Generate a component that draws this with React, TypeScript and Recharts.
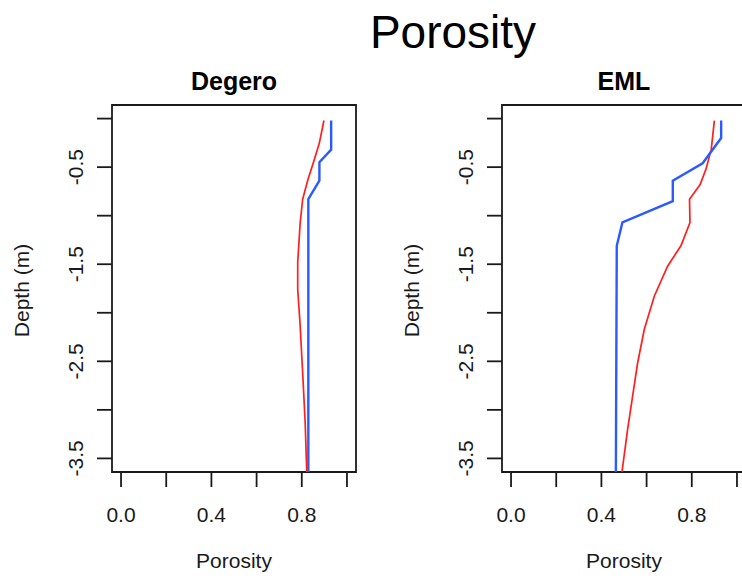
import { Line, LineChart, ReferenceArea, XAxis, YAxis } from "recharts";

// Porosity profiles (depth in m, negative downwards).
const degeroRedDepth = [-0.02, -0.25, -0.42, -0.63, -0.83, -1.07, -1.48, -1.76, -2.1, -2.62, -3.13, -3.64];
const degeroRedPorosity = [0.898, 0.878, 0.856, 0.827, 0.804, 0.793, 0.782, 0.782, 0.792, 0.804, 0.815, 0.822];
const degeroBlueDepth = [-0.02, -0.32, -0.45, -0.64, -0.83, -3.64];
const degeroBluePorosity = [0.93, 0.93, 0.878, 0.878, 0.829, 0.829];

const emlRedDepth = [-0.02, -0.32, -0.52, -0.68, -0.83, -1.07, -1.31, -1.52, -1.83, -2.17, -2.52, -2.86, -3.2, -3.64];
const emlRedPorosity = [0.9, 0.886, 0.863, 0.837, 0.79, 0.792, 0.752, 0.693, 0.634, 0.59, 0.56, 0.538, 0.516, 0.491];
const emlBlueDepth = [-0.02, -0.2, -0.46, -0.64, -0.85, -1.07, -1.31, -3.64];
const emlBluePorosity = [0.93, 0.93, 0.848, 0.716, 0.716, 0.493, 0.468, 0.464];

const xTicks = [0, 0.2, 0.4, 0.6, 0.8, 1.0];
const xTickLabels = ["0.0", "", "0.4", "", "0.8", ""];
const yTicks = [0, -0.5, -1, -1.5, -2, -2.5, -3, -3.5];
const yTickLabels = ["", "-0.5", "", "-1.5", "", "-2.5", "", "-3.5"];

// R-style axis limits: data range plus 4% each side
const X_DOMAIN: [number, number] = [-0.04, 1.04];
const Y_DOMAIN: [number, number] = [-3.64, 0.14];

const RED = "#ff1f1f";
const BLUE = "#2b5bff";
const INK = "#1a1a1a";
const FONT = '"Liberation Sans", Arial, Helvetica, sans-serif';

const toPoints = (depth: number[], porosity: number[]) =>
  depth.map((d, i) => ({ depth: d, porosity: porosity[i] }));

const XTick = ({ x, y, payload }: any) => {
  const i = xTicks.indexOf(payload.value);
  return (
    <text x={x} y={y + 33} textAnchor="middle" fontSize={21} fill={INK} fontFamily={FONT}>
      {xTickLabels[i] ?? ""}
    </text>
  );
};

const YTick = ({ x, y, payload }: any) => {
  const i = yTicks.indexOf(payload.value);
  const tx = x - 12;
  return (
    <text
      x={tx}
      y={y}
      textAnchor="middle"
      transform={`rotate(-90, ${tx}, ${y})`}
      fontSize={21}
      fill={INK}
      fontFamily={FONT}
    >
      {yTickLabels[i] ?? ""}
    </text>
  );
};

function Panel({
  title,
  red,
  blue,
  left,
}: {
  title: string;
  red: { depth: number; porosity: number }[];
  blue: { depth: number; porosity: number }[];
  left: number;
}) {
  return (
    <div style={{ position: "absolute", left, top: 0 }}>
      <div
        style={{
          position: "absolute",
          left: 112,
          width: 244,
          top: 69,
          textAlign: "center",
          fontFamily: FONT,
          fontWeight: "bold",
          fontSize: 25,
          lineHeight: "25px",
          color: "#000",
        }}
      >
        {title}
      </div>
      <LineChart
        layout="vertical"
        width={371}
        height={578}
        margin={{ top: 105, right: 15, bottom: 0, left: 12 }}
      >
        <XAxis
          type="number"
          domain={X_DOMAIN}
          ticks={xTicks}
          interval={0}
          allowDataOverflow
          height={106}
          axisLine={false}
          tickSize={15}
          tickLine={{ stroke: INK, strokeWidth: 1.8 }}
          tick={<XTick />}
          label={(props: any) => {
            const vb = props.viewBox ?? { x: 112, y: 472, width: 244 };
            return (
              <text
                x={vb.x + vb.width / 2}
                y={568}
                textAnchor="middle"
                fontSize={21}
                fill={INK}
                fontFamily={FONT}
              >
                Porosity
              </text>
            );
          }}
        />
        <YAxis
          type="number"
          dataKey="depth"
          domain={Y_DOMAIN}
          ticks={yTicks}
          interval={0}
          reversed
          allowDataOverflow
          width={100}
          axisLine={false}
          tickSize={15}
          tickLine={{ stroke: INK, strokeWidth: 1.8 }}
          tick={<YTick />}
          label={(props: any) => {
            const vb = props.viewBox ?? { y: 105, height: 367 };
            const cy = vb.y + vb.height / 2 + 2;
            return (
              <text
                x={29}
                y={cy}
                textAnchor="middle"
                transform={`rotate(-90, 29, ${cy})`}
                fontSize={21}
                fill={INK}
                fontFamily={FONT}
              >
                Depth (m)
              </text>
            );
          }}
        />
        <ReferenceArea
          x1={X_DOMAIN[0]}
          x2={X_DOMAIN[1]}
          y1={Y_DOMAIN[0]}
          y2={Y_DOMAIN[1]}
          fill="none"
          stroke={INK}
          strokeWidth={1.8}
          ifOverflow="visible"
        />
        <Line
          data={red}
          dataKey="porosity"
          stroke={RED}
          strokeWidth={1.7}
          dot={false}
          activeDot={false}
          isAnimationActive={false}
        />
        <Line
          data={blue}
          dataKey="porosity"
          stroke={BLUE}
          strokeWidth={2.4}
          dot={false}
          activeDot={false}
          isAnimationActive={false}
        />
      </LineChart>
    </div>
  );
}

export default function App() {
  return (
    <div
      style={{
        position: "relative",
        width: 742,
        height: 578,
        overflow: "hidden",
        background: "#fff",
      }}
    >
      <style>{"body{margin:0}"}</style>
      <div
        style={{
          position: "absolute",
          left: 0,
          width: 906,
          top: 9,
          textAlign: "center",
          fontFamily: FONT,
          fontSize: 46,
          lineHeight: "46px",
          color: "#000",
        }}
      >
        Porosity
      </div>
      <Panel
        title="Degero"
        red={toPoints(degeroRedDepth, degeroRedPorosity)}
        blue={toPoints(degeroBlueDepth, degeroBluePorosity)}
        left={0}
      />
      <Panel
        title="EML"
        red={toPoints(emlRedDepth, emlRedPorosity)}
        blue={toPoints(emlBlueDepth, emlBluePorosity)}
        left={390}
      />
    </div>
  );
}
